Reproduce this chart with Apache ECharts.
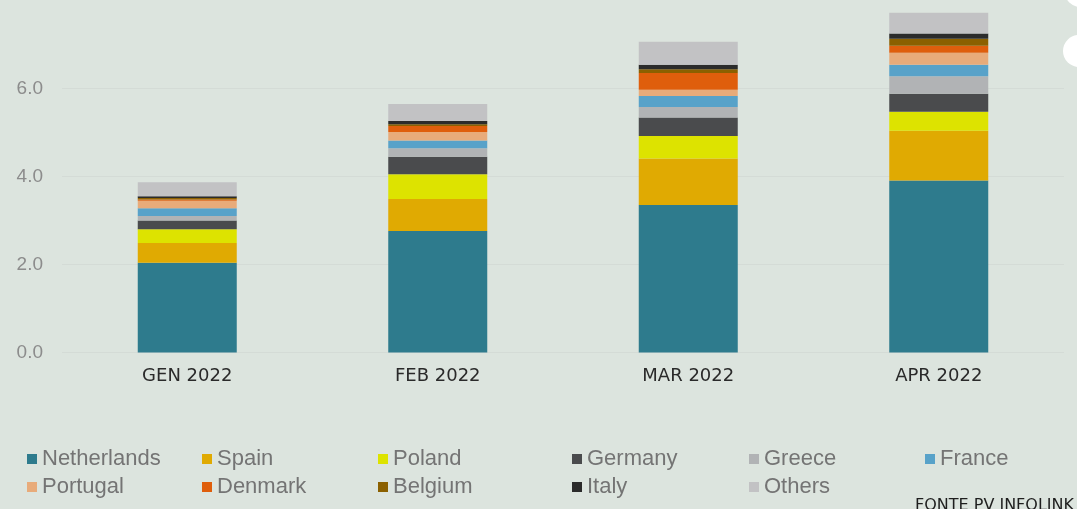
<!DOCTYPE html>
<html>
<head>
<meta charset="utf-8">
<style>
  html, body { margin: 0; padding: 0; background: #dce4de; }
  #chart { width: 1077px; height: 509px; }
</style>
<script src="https://cdn.jsdelivr.net/npm/echarts@6/dist/echarts.min.js"></script>
</head>
<body>
<div id="chart"></div>
<script>
// Monthly installations by country (GW), stacked bottom to top
const months = ['GEN 2022', 'FEB 2022', 'MAR 2022', 'APR 2022'];

const netherlands = [2.04, 2.76, 3.35, 3.91];
const spain       = [0.45, 0.73, 1.06, 1.13];
const poland      = [0.31, 0.56, 0.51, 0.43];
const germany     = [0.20, 0.40, 0.42, 0.41];
const greece      = [0.10, 0.19, 0.24, 0.40];
const france      = [0.18, 0.18, 0.25, 0.26];
const portugal    = [0.17, 0.19, 0.14, 0.27];
const denmark     = [0.03, 0.14, 0.38, 0.16];
const belgium     = [0.03, 0.04, 0.09, 0.16];
const italy       = [0.04, 0.07, 0.10, 0.12];
const others      = [0.32, 0.39, 0.52, 0.47];

const yTicks = [0, 2, 4, 6, 8];

const countries = [
  { name: 'Netherlands', data: netherlands, color: '#2e7b8d' },
  { name: 'Spain',       data: spain,       color: '#e0aa02' },
  { name: 'Poland',      data: poland,      color: '#dde300' },
  { name: 'Germany',     data: germany,     color: '#4a4b4d' },
  { name: 'Greece',      data: greece,      color: '#b1b3b5' },
  { name: 'France',      data: france,      color: '#58a2c9' },
  { name: 'Portugal',    data: portugal,    color: '#e8ab7a' },
  { name: 'Denmark',     data: denmark,     color: '#df5e0c' },
  { name: 'Belgium',     data: belgium,     color: '#8b6000' },
  { name: 'Italy',       data: italy,       color: '#2b2b2b' },
  { name: 'Others',      data: others,      color: '#c2c2c4' }
];

// legend grid: two rows, six columns
const legendCols = [27, 202, 378, 572, 749, 925];
const legendRows = [459, 487];
const legendLayout = [
  ['Netherlands', 0, 0], ['Spain', 1, 0], ['Poland', 2, 0],
  ['Germany', 3, 0], ['Greece', 4, 0], ['France', 5, 0],
  ['Portugal', 0, 1], ['Denmark', 1, 1], ['Belgium', 2, 1],
  ['Italy', 3, 1], ['Others', 4, 1]
];

const legends = legendLayout.map(([name, c, r]) => ({
  data: [name],
  left: legendCols[c],
  top: legendRows[r] - 12,
  padding: 0,
  itemWidth: 10,
  itemHeight: 10,
  icon: 'rect',
  selectedMode: false,
  textStyle: {
    fontFamily: 'Liberation Sans, Arial, sans-serif',
    fontSize: 22,
    color: '#747474',
    lineHeight: 24
  }
}));

const chart = echarts.init(document.getElementById('chart'), null, { renderer: 'canvas' });

chart.setOption({
  backgroundColor: '#dce4de',
  animation: false,
  grid: { left: 62, right: 13, top: 0.5, bottom: 156.5, containLabel: false },
  legend: legends,
  xAxis: {
    type: 'category',
    data: months,
    axisLine: { show: false },
    axisTick: { show: false },
    axisLabel: {
      margin: 15,
      fontFamily: 'DejaVu Sans, sans-serif',
      fontSize: 18,
      color: '#2a2a2a'
    }
  },
  yAxis: {
    type: 'value',
    min: yTicks[0],
    max: yTicks[yTicks.length - 1],
    interval: 2,
    axisLine: { show: false },
    axisTick: { show: false },
    axisLabel: {
      showMaxLabel: false,
      margin: 19,
      fontFamily: 'Liberation Sans, Arial, sans-serif',
      fontSize: 19,
      color: '#8c8c8c',
      formatter: v => v.toFixed(1)
    },
    splitLine: {
      showMaxLine: false,
      lineStyle: { color: '#d4dbd6', width: 1 }
    }
  },
  series: countries.map(c => ({
    name: c.name,
    type: 'bar',
    stack: 'total',
    barWidth: 99,
    data: c.data,
    itemStyle: { color: c.color }
  })),
  graphic: [
    {
      type: 'text',
      left: 915,
      top: 498,
      style: {
        text: 'FONTE PV INFOLINK',
        fontFamily: 'DejaVu Sans, sans-serif',
        fontSize: 16,
        fill: '#1e1e1e'
      }
    },
    { type: 'circle', shape: { cx: 1080, cy: -8, r: 15 }, style: { fill: '#ffffff' } },
    { type: 'circle', shape: { cx: 1079, cy: 51, r: 16 }, style: { fill: '#ffffff' } }
  ]
});
</script>
</body>
</html>
